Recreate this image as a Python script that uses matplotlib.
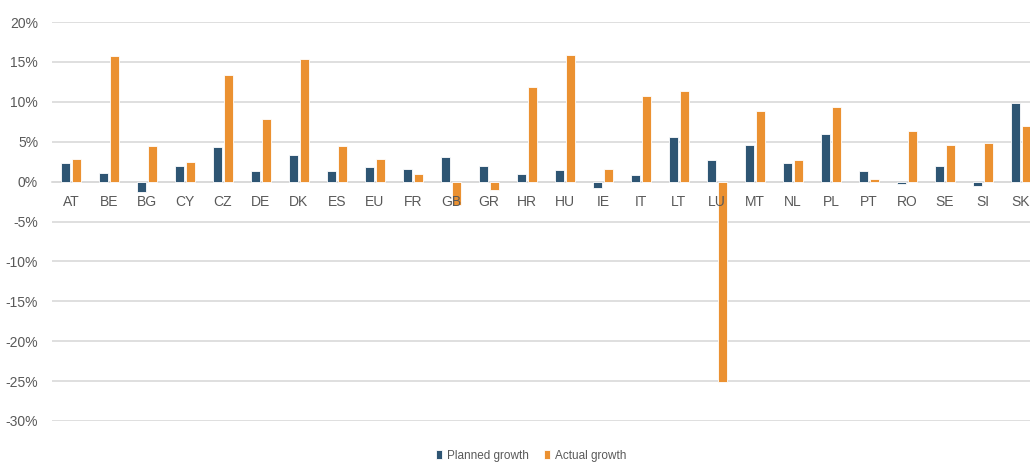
import numpy as np
import matplotlib.pyplot as plt
from matplotlib.ticker import FuncFormatter

plt.rcParams['font.family'] = ['Liberation Sans Narrow', 'Liberation Sans', 'DejaVu Sans']

countries = ["AT", "BE", "BG", "CY", "CZ", "DE", "DK", "ES", "EU", "FR", "GB", "GR", "HR",
             "HU", "IE", "IT", "LT", "LU", "MT", "NL", "PL", "PT", "RO", "SE", "SI", "SK"]
planned = [2.3, 1.1, -1.3, 2.0, 4.3, 1.3, 3.3, 1.3, 1.8, 1.6, 3.1, 2.0, 1.0,
           1.5, -0.8, 0.8, 5.6, 2.7, 4.6, 2.3, 6.0, 1.3, -0.3, 2.0, -0.5, 9.8]
actual = [2.8, 15.7, 4.4, 2.5, 13.3, 7.9, 15.4, 4.4, 2.8, 1.0, -2.9, -1.0, 11.9,
          15.9, 1.6, 10.7, 11.4, -25.1, 8.8, 2.7, 9.3, 0.3, 6.3, 4.6, 4.8, 7.0]

fig = plt.figure(figsize=(10.3, 4.62), dpi=100)
ax = fig.add_axes([52 / 1030, (462 - 421) / 462, 1 - 52 / 1030, (421 - 22) / 462])

x = np.arange(len(countries))
w = 0.235
ax.bar(x - 0.145, planned, width=w, color="#2E5573", edgecolor="white", linewidth=0.6,
       label="Planned growth", zorder=3)
ax.bar(x + 0.145, actual, width=w, color="#EB9131", edgecolor="white", linewidth=0.6,
       label="Actual growth", zorder=3)

ax.set_ylim(-30, 20)
ax.set_yticks(np.arange(-30, 21, 5))
ax.yaxis.set_major_formatter(FuncFormatter(lambda v, p: f"{v:.0f}%"))
ax.set_xlim(-0.5, 25.24)
ax.grid(axis="y", color="#D9D9D9", linewidth=1.2, zorder=0)

# category labels sit on the zero line, drawn over the bars
ax.set_xticks(x)
ax.set_xticklabels(countries)
ax.xaxis.set_zorder(4)
ax.spines['bottom'].set_position(('data', 0))
for s in ["top", "right", "left"]:
    ax.spines[s].set_visible(False)
ax.spines['bottom'].set_color("#D9D9D9")
ax.spines['bottom'].set_linewidth(1.2)
ax.tick_params(axis="both", length=0, labelsize=10, colors="#595959")
ax.tick_params(axis="x", pad=10)
ax.tick_params(axis="y", pad=10)

fig.legend(loc="center", bbox_to_anchor=(531 / 1030, 6 / 462), ncol=2, frameon=False,
           fontsize=8.5, handlelength=0.5, handleheight=0.8, columnspacing=1.3,
           handletextpad=0.4, labelcolor="#595959")

plt.savefig("out.png", dpi=100)
